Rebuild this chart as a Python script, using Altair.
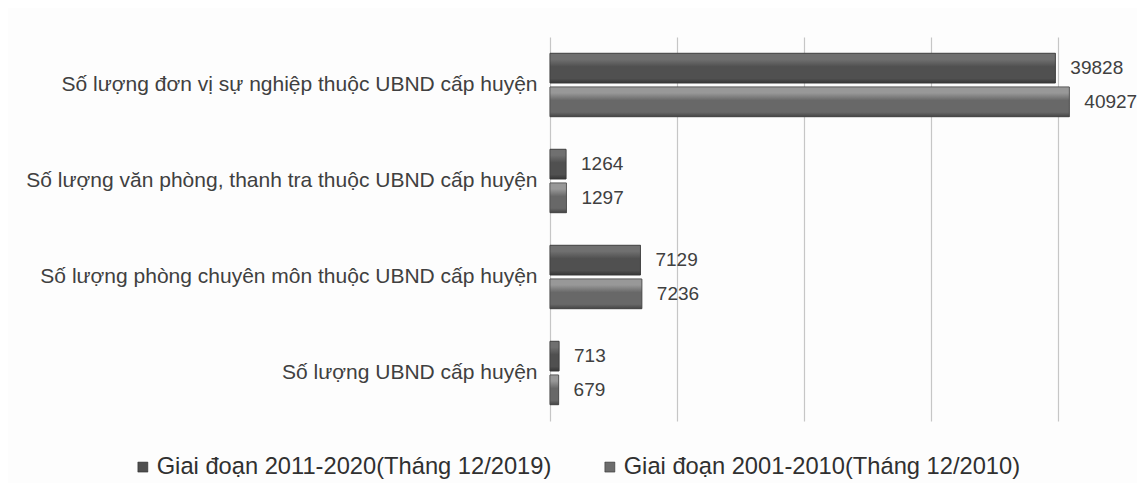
import altair as alt
import pandas as pd

categories = [
    "Số lượng đơn vị sự nghiệp thuộc UBND cấp huyện",
    "Số lượng văn phòng, thanh tra thuộc UBND cấp huyện",
    "Số lượng phòng chuyên môn thuộc UBND cấp huyện",
    "Số lượng UBND cấp huyện",
]
series = ["Giai đoạn 2011-2020(Tháng 12/2019)", "Giai đoạn 2001-2010(Tháng 12/2010)"]
values_2019 = [39828, 1264, 7129, 713]
values_2010 = [40927, 1297, 7236, 679]

rows = []
for c, a, b in zip(categories, values_2019, values_2010):
    rows.append({"cat": c, "series": series[0], "value": a})
    rows.append({"cat": c, "series": series[1], "value": b})
df = pd.DataFrame(rows)

FONT = "Liberation Sans"
colors = ["#4f4f4f", "#6c6c6c"]

y = alt.Y("cat:N", sort=categories, title=None,
          scale=alt.Scale(paddingInner=0.34, paddingOuter=0.17),
          axis=alt.Axis(domain=False, ticks=False, labelFont=FONT, labelFontSize=21,
                        labelColor="#404040", labelPadding=13, labelLimit=700))
x = alt.X("value:Q", title=None,
          scale=alt.Scale(domain=[0, 45000], nice=False),
          axis=alt.Axis(values=[0, 10000, 20000, 30000, 40000], labels=False, ticks=False,
                        domain=False, grid=True, gridColor="#c6c6c6", gridWidth=1.2))
yoff = alt.YOffset("series:N", sort=series, scale=alt.Scale(paddingInner=0.12, paddingOuter=0))

bars = alt.Chart(df).mark_bar(stroke="#3a3a3a", strokeWidth=0.6).encode(
    y=y, x=x, yOffset=yoff,
    color=alt.Color("series:N", sort=series,
                    scale=alt.Scale(domain=series, range=colors),
                    legend=alt.Legend(title=None, orient="none", direction="horizontal",
                                      legendX=-419, legendY=418,
                                      labelFont=FONT, labelFontSize=23.7, labelColor="#303030",
                                      symbolType="square", symbolSize=100, labelOffset=2,
                                      symbolStrokeColor="#222", symbolStrokeWidth=0.5,
                                      columnPadding=46, labelLimit=500)),
)

def grad(top, mid, dark):
    return {"gradient": "linear", "x1": 0, "y1": 0, "x2": 0, "y2": 1,
            "stops": [{"offset": 0, "color": top}, {"offset": 0.2, "color": top},
                      {"offset": 0.45, "color": mid}, {"offset": 0.85, "color": mid},
                      {"offset": 1, "color": dark}]}

g1 = alt.Chart(df).transform_filter(alt.datum.series == series[0]).mark_bar(
    fill=grad("#707070", "#505050", "#363636"), stroke="#363636", strokeWidth=0.6).encode(
    y=alt.Y("cat:N", sort=categories), x="value:Q", yOffset=yoff)
g2 = alt.Chart(df).transform_filter(alt.datum.series == series[1]).mark_bar(
    fill=grad("#989898", "#686868", "#454545"), stroke="#454545", strokeWidth=0.6).encode(
    y=alt.Y("cat:N", sort=categories), x="value:Q", yOffset=yoff)

labels = alt.Chart(df).mark_text(align="left", baseline="middle", dx=15, font=FONT,
                                 fontSize=19, color="#404040").encode(
    y=alt.Y("cat:N", sort=categories), x="value:Q", yOffset=yoff, text="value:Q")

chart = alt.layer(bars, g1, g2, labels).resolve_scale(y="shared").properties(
    width=571, height=384,
    autosize=alt.AutoSizeParams(type="none"),
    padding={"left": 542, "top": 29, "right": 16, "bottom": 62},
    background="#fdfdfd",
).configure_view(stroke=None)

chart.save("out.html", embed_options={"renderer": "svg", "actions": False})
